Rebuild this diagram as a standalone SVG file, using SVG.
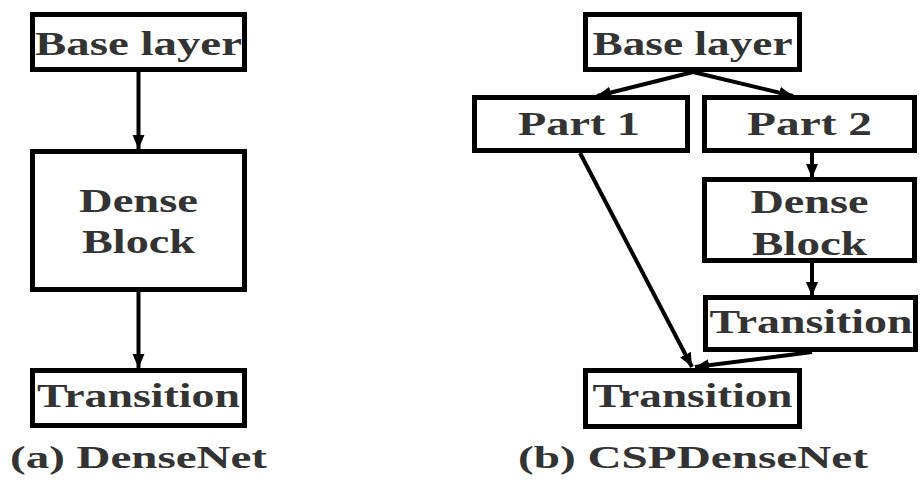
<svg xmlns="http://www.w3.org/2000/svg" width="921" height="485" viewBox="0 0 921 485">
<style>
.box{fill:#fff;stroke:#000;stroke-width:5}
.t{font-family:"Liberation Serif","Times New Roman",serif;font-weight:bold;font-size:34px;fill:#333;text-anchor:middle}
.cap{font-family:"Liberation Serif","Times New Roman",serif;font-weight:bold;font-size:31px;fill:#333;text-anchor:middle}
.c{stroke:#000;stroke-width:4;fill:none;marker-end:url(#ah)}
</style>
<defs>
<marker id="ah" markerUnits="userSpaceOnUse" markerWidth="16" markerHeight="14" refX="14" refY="6" orient="auto">
<path d="M0,0 L14,6 L0,12 z" fill="#000"/>
</marker>
</defs>
<rect width="921" height="485" fill="#fff"/>
<g id="connectors">
<line class="c" x1="138.5" y1="72" x2="138.5" y2="149"/>
<line class="c" x1="138.5" y1="292" x2="138.5" y2="368"/>
<line class="c" x1="693" y1="72" x2="597" y2="96"/>
<line class="c" x1="693" y1="72" x2="793" y2="96"/>
<line class="c" x1="812" y1="153" x2="812" y2="178"/>
<line class="c" x1="812" y1="263" x2="812" y2="296"/>
<line class="c" x1="580" y1="153" x2="692" y2="367"/>
<line class="c" x1="812" y1="352" x2="695" y2="367"/>
</g>
<g id="a-base">
<rect class="box" x="32.5" y="14.5" width="212" height="55"/>
<text class="t" x="138.5" y="55" textLength="207" lengthAdjust="spacingAndGlyphs">Base layer</text>
</g>
<g id="a-dense">
<rect class="box" x="32.5" y="151.5" width="212" height="138"/>
<text class="t" x="138.5" y="212" textLength="119" lengthAdjust="spacingAndGlyphs">Dense</text>
<text class="t" x="138.5" y="253" textLength="113" lengthAdjust="spacingAndGlyphs">Block</text>
</g>
<g id="a-transition">
<rect class="box" x="32.5" y="370.5" width="212" height="55"/>
<text class="t" x="138.5" y="407" textLength="203" lengthAdjust="spacingAndGlyphs">Transition</text>
</g>
<g id="a-caption">
<text class="cap" x="138.5" y="468" textLength="257" lengthAdjust="spacingAndGlyphs">(a) DenseNet</text>
</g>
<g id="b-base">
<rect class="box" x="585.5" y="14.5" width="214" height="55"/>
<text class="t" x="692.5" y="55" textLength="200" lengthAdjust="spacingAndGlyphs">Base layer</text>
</g>
<g id="b-part1">
<rect class="box" x="474.5" y="97.5" width="213" height="53"/>
<text class="t" x="579" y="135" textLength="122" lengthAdjust="spacingAndGlyphs">Part 1</text>
</g>
<g id="b-part2">
<rect class="box" x="704.5" y="97.5" width="210" height="53"/>
<text class="t" x="809.5" y="135" textLength="125" lengthAdjust="spacingAndGlyphs">Part 2</text>
</g>
<g id="b-dense">
<rect class="box" x="704.5" y="179.5" width="210" height="81"/>
<text class="t" x="809.5" y="213" textLength="118" lengthAdjust="spacingAndGlyphs">Dense</text>
<text class="t" x="809.5" y="255" textLength="115" lengthAdjust="spacingAndGlyphs">Block</text>
</g>
<g id="b-transition1">
<rect class="box" x="705.5" y="297.5" width="210" height="52"/>
<text class="t" x="811" y="333" textLength="203" lengthAdjust="spacingAndGlyphs">Transition</text>
</g>
<g id="b-transition2">
<rect class="box" x="585.5" y="370.5" width="214" height="56"/>
<text class="t" x="692.5" y="407" textLength="200" lengthAdjust="spacingAndGlyphs">Transition</text>
</g>
<g id="b-caption">
<text class="cap" x="693" y="468" textLength="350" lengthAdjust="spacingAndGlyphs">(b) CSPDenseNet</text>
</g>
</svg>
